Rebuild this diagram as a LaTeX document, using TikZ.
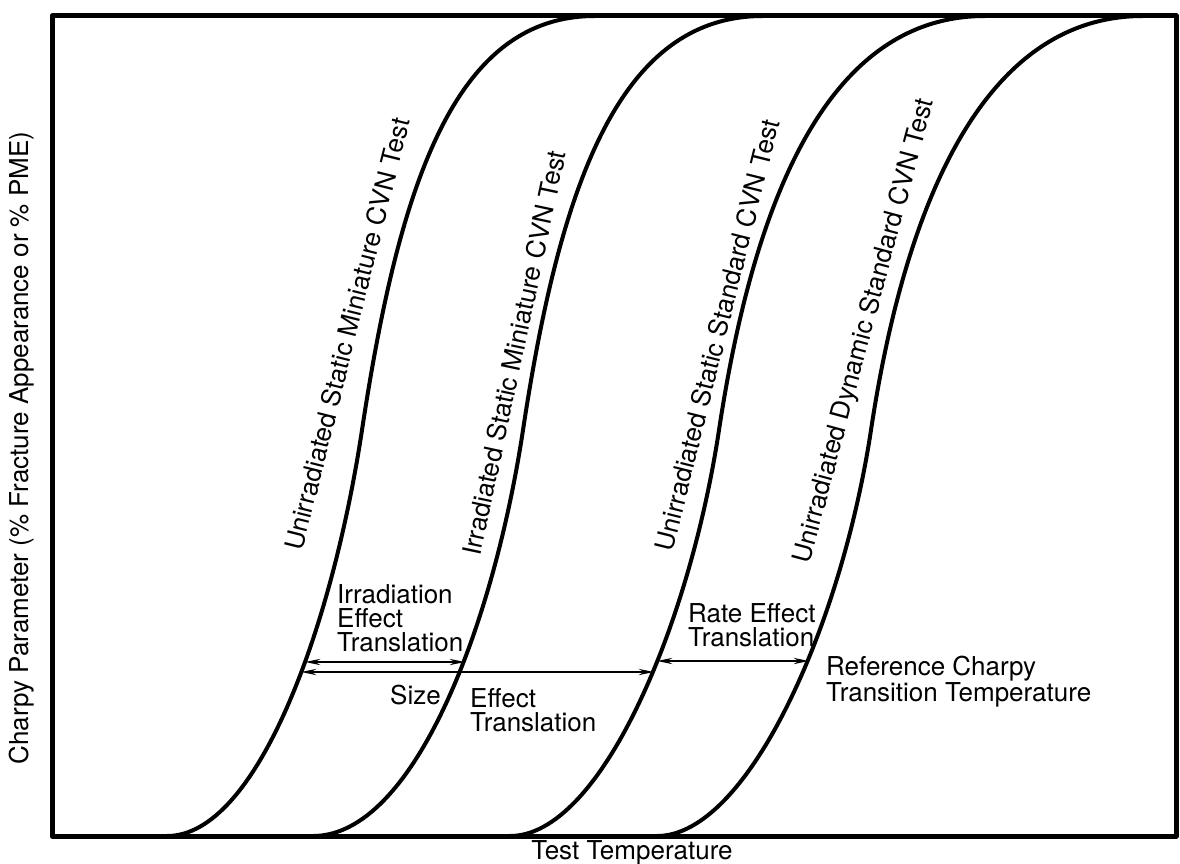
\documentclass[tikz,border=0pt]{standalone}
\usepackage{fontspec}
\setmainfont{TeX Gyre Heros}
\usetikzlibrary{arrows.meta,positioning}

\begin{document}
\begin{tikzpicture}[
  x=1pt, y=-1pt,
  font=\fontsize{26}{24}\selectfont, >={Stealth[length=15pt,width=6pt]},
  frame/.style={line width=5pt, line join=round},
  curve/.style={line width=4pt, line join=round},
  transl/.style={<->, line width=2.4pt},
  lbl/.style={align=left, inner sep=0pt},
  curvelbl/.style={inner sep=0pt, anchor=center},
]
\useasboundingbox (0,0) rectangle (1180,864);
% plot frame
\draw[frame] (52,16) rectangle (1176,836);
% the four transition curves, left to right
\draw[curve] (167,836) .. controls (257,836) and (332,628) .. (362,430)
  .. controls (399.5,182.5) and (455,16) .. (595,16);
\draw[curve] (313,836) .. controls (413,836) and (493,628) .. (523,430)
  .. controls (560.5,182.5) and (620,16) .. (763,16);
\draw[curve] (510,836) .. controls (600,836) and (689,628) .. (719,430)
  .. controls (756.5,182.5) and (835,16) .. (985,16);
\draw[curve] (657,836) .. controls (747,836) and (841,628) .. (871,430)
  .. controls (908.5,182.5) and (993,16) .. (1143,16);
% curve names
\node[curvelbl, rotate=76] (usm) at (347,334) {Unirradiated Static Miniature CVN Test};
\node[curvelbl, rotate=78] (ism) at (514,353) {Irradiated Static Miniature CVN Test};
\node[curvelbl, rotate=76] (uss) at (717,335) {Unirradiated Static Standard CVN Test};
\node[curvelbl, rotate=75] (uds) at (865,331) {Unirradiated Dynamic Standard CVN Test};
% ends of the translations on the curves
\coordinate (usmA) at (305,662);
\coordinate (ismA) at (465,662);
\coordinate (usmB) at (301,672);
\coordinate (ussB) at (654,672);
\coordinate (ussC) at (657,661);
\coordinate (udsC) at (809,661);
% translations between the curves
\draw[transl] (usmA) -- (ismA);
\draw[transl] (usmB) -- (ussB);
\draw[transl] (ussC) -- (udsC);
% translation labels
\node[lbl, anchor=north west] (irr) at (337,584) {Irradiation\\Effect\\Translation};
\node[lbl, anchor=north east] (size) at (441,685) {Size};
\node[lbl, anchor=north west] (sizeeff) at (470,688) {Effect\\Translation};
\node[lbl, anchor=north west] (rate) at (688,603) {Rate Effect\\Translation};
\node[lbl, anchor=north west] (ref) at (826,656) {Reference Charpy\\Transition Temperature};
% axes
\node (xlab) at (632,853) {Test Temperature};
\node[rotate=90] (ylab) at (22,448) {Charpy Parameter (\% Fracture Appearance or \% PME)};
\end{tikzpicture}
\end{document}
